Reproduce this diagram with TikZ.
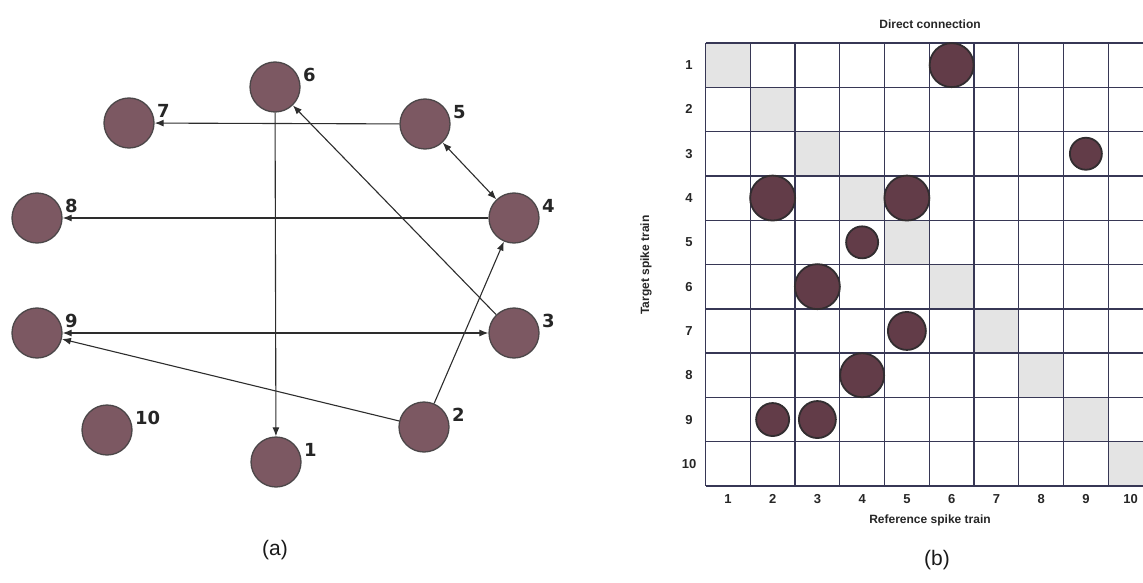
\documentclass[tikz,border=0pt]{standalone}
\usepackage{fontspec}
\setmainfont{Liberation Sans}
\newfontfamily\numfont{DejaVu Sans}
\usetikzlibrary{arrows.meta}
\definecolor{nodefill}{RGB}{124,88,98}
\definecolor{nodedraw}{RGB}{75,70,72}
\definecolor{edgecol}{RGB}{45,45,45}
\definecolor{gridcol}{RGB}{55,55,85}
\definecolor{diagcol}{RGB}{228,228,228}
\definecolor{dotfill}{RGB}{98,60,72}
\definecolor{dotdraw}{RGB}{50,45,48}
\tikzset{
  gnode/.style={circle, fill=nodefill, draw=nodedraw, line width=1.3pt, minimum size=50pt, inner sep=0pt},
  glabel/.style={anchor=west, inner sep=0pt, font=\numfont\bfseries\fontsize{18}{18}\selectfont, text=black!85},
  arr/.style={draw=edgecol, line width=1.1pt, -{Latex[length=9pt,width=7pt]}},
  darr/.style={draw=edgecol, line width=1.1pt, {Latex[length=9pt,width=7pt]}-{Latex[length=9pt,width=7pt]}},
  dot/.style={circle, fill=dotfill, draw=dotdraw, line width=1.8pt, inner sep=0pt},
  axlab/.style={font=\bfseries\fontsize{12}{12}\selectfont, text=black!85},
  ticklab/.style={font=\bfseries\fontsize{13}{13}\selectfont, text=black!85},
  sublab/.style={font=\fontsize{21}{21}\selectfont, text=black!90}
}
\begin{document}
\begin{tikzpicture}[x=1pt,y=-1pt]
\useasboundingbox (0,0) rectangle (1143,583);
\clip (0,0) rectangle (1143,583);
% ---------- (a) graph ----------
\node[gnode] (n6) at (275,87) {};
\node[gnode] (n7) at (129,123) {};
\node[gnode] (n5) at (425,124) {};
\node[gnode] (n8) at (37,218) {};
\node[gnode] (n4) at (514,218) {};
\node[gnode] (n9) at (37,333) {};
\node[gnode] (n3) at (514,333) {};
\node[gnode] (n10) at (107,430) {};
\node[gnode] (n1) at (276,462) {};
\node[gnode] (n2) at (424,427) {};
\foreach \i in {1,...,10}{
  \node[glabel] (l\i) at ([shift={(28,-12)}]n\i.center) {\i};
}
\draw[arr] (n6) -- (n1);
\draw[arr] (n5) -- (n7);
\draw[darr] (n5) -- (n4);
\draw[arr] (n4) -- (n8);
\draw[arr] (n3) -- (n6);
\draw[darr] (n9) -- (n3);
\draw[arr] (n2) -- (n4);
\draw[arr] (n2) -- (n9);
\node[sublab] (capa) at (275,550) {(a)};
% ---------- (b) matrix ----------
\def\gx{705.5}\def\gy{43}\def\cw{44.75}\def\ch{44.3}
\foreach \k in {1,...,10}{
  \fill[diagcol] (\gx+\k*\cw-\cw,\gy+\k*\ch-\ch) rectangle (\gx+\k*\cw,\gy+\k*\ch);
}
\foreach \r in {0,...,10}{
  \draw[gridcol, line width=1.4pt] (\gx,\gy+\r*\ch) -- (\gx+10*\cw,\gy+\r*\ch);
}
\foreach \c in {0,...,10}{
  \draw[gridcol, line width=1.4pt] (\gx+\c*\cw,\gy) -- (\gx+\c*\cw,\gy+10*\ch);
}
\foreach \k in {1,...,10}{
  \node[ticklab] (rl\k) at (689,\gy+\k*\ch-0.5*\ch) {\k};
  \node[ticklab] (cl\k) at (\gx+\k*\cw-0.5*\cw,499) {\k};
}
% dots: target row t, reference column r
\foreach \t/\r/\d in {1/6/44, 3/9/32, 4/2/45, 4/5/45, 5/4/32, 6/3/45, 7/5/38, 8/4/44, 9/2/33, 9/3/37}{
  \node[dot, minimum size=\d pt] (d\t-\r) at (\gx+\r*\cw-0.5*\cw,\gy+\t*\ch-0.5*\ch) {};
}
\node[axlab] (title) at (930,24) {Direct connection};
\node[axlab] (xlab) at (930,520) {Reference spike train};
\node[axlab, rotate=90] (ylab) at (646,265) {Target spike train};
\node[sublab] (capb) at (937,560) {(b)};
\end{tikzpicture}
\end{document}
